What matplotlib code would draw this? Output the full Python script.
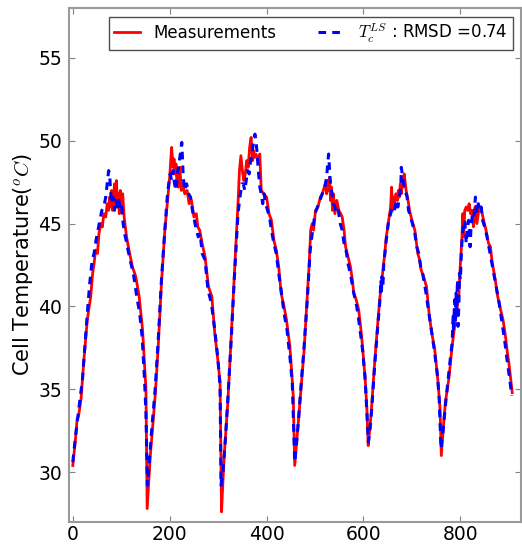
"""
Cell temperature: measurements vs. LS model estimate over six cycles.
"""
import matplotlib
matplotlib.use("Agg")
import matplotlib.pyplot as plt

plt.rcParams["mathtext.fontset"] = "cm"

# measured cell temperature (red, solid)
meas_t = [0, 5, 9, 12, 17, 23, 30, 37, 41, 44, 47, 51, 54, 58, 61, 64, 68, 71, 74, 76,
          78, 80, 82, 84, 86, 88, 90, 92, 94, 96, 98, 100, 103, 106, 111, 116, 123, 130,
          137, 144, 148, 151, 153.5,
          157, 160, 166, 170, 176, 183, 190, 197, 200, 204, 207, 209, 211, 213, 215, 218,
          221, 224, 227, 231, 236, 240, 245, 250, 255, 258, 262, 267, 273, 280, 287, 293,
          300, 304, 307,
          310, 313, 320, 327, 334, 341, 344, 347, 350, 353, 356, 359, 362, 365, 368, 371,
          373, 375, 378, 382, 386, 389, 394, 400, 405, 410, 415, 420, 425, 430, 436, 441,
          448, 452, 455, 458,
          462, 466, 472, 477, 484, 488, 491, 494, 497, 501, 506, 511, 515, 519, 522, 524,
          526, 528, 530, 532, 534, 536, 538, 541, 545, 549, 553, 556, 560, 563, 568, 573,
          577, 580, 585, 590, 594, 598, 604, 607, 609.7,
          613, 616, 623, 630, 634, 637, 640, 644, 647, 651, 654, 656, 658, 660, 662, 664,
          667, 670, 672, 674, 676, 678, 680, 682, 684, 688, 692, 695, 700, 706, 712, 716,
          719, 724, 730, 736, 741, 747, 754, 758, 760.6,
          765, 769, 776, 783, 788, 792, 797, 800, 803, 805, 807, 809, 812, 815, 818, 821,
          824, 827, 830, 834, 838, 841, 845, 848, 853, 858, 862, 865, 872, 877, 883, 888,
          893, 897, 900, 904, 907]
meas_T = [30.4, 31.8, 33.2, 33.4, 34.4, 36.8, 39.2, 40.6, 42.0, 42.6, 43.4, 43.2, 44.4,
          45.0, 44.8, 45.6, 45.4, 46.2, 45.8, 46.6, 46.0, 47.0, 45.8, 46.4, 47.4, 46.0,
          47.6, 46.2, 46.8, 45.6, 47.0, 46.0, 46.8, 45.4, 44.2, 43.4, 42.4, 41.8, 40.6,
          38.6, 36.6, 35.0, 27.8,
          29.5, 31.0, 33.2, 34.6, 37.4, 41.4, 44.6, 46.8, 47.8, 49.6, 48.4, 48.9, 48.0,
          48.6, 47.4, 47.2, 48.4, 47.0, 47.4, 46.8, 47.0, 46.2, 46.4, 45.4, 45.6, 44.8,
          44.6, 43.8, 43.0, 41.2, 40.6, 38.4, 36.6, 35.4, 27.6,
          29.5, 31.2, 34.2, 38.2, 42.2, 46.2, 48.2, 49.1, 48.2, 47.6, 48.0, 48.8, 48.4,
          49.6, 50.2, 48.8, 49.4, 49.0, 49.2, 48.8, 49.2, 47.0, 46.8, 46.6, 45.6, 45.2,
          44.0, 43.4, 42.4, 40.8, 40.0, 39.2, 37.6, 36.0, 34.6, 30.4,
          31.8, 33.2, 35.4, 37.2, 40.6, 42.6, 44.6, 45.0, 44.6, 45.8, 46.0, 46.6, 46.8,
          47.2, 47.4, 46.8, 47.6, 47.0, 47.8, 46.4, 47.2, 45.8, 46.8, 45.6, 46.4, 45.8,
          45.6, 45.4, 44.6, 43.6, 43.0, 42.4, 41.6, 40.8, 40.4, 39.8, 38.8, 37.6, 35.4,
          33.8, 31.6,
          32.6, 33.6, 36.6, 39.2, 40.6, 41.2, 42.2, 43.2, 44.2, 45.0, 45.6, 46.0, 47.2,
          45.8, 46.6, 46.2, 46.8, 46.4, 47.0, 46.6, 47.4, 46.8, 47.8, 47.2, 48.0, 47.0,
          46.4, 45.8, 45.2, 44.6, 43.2, 42.8, 42.2, 41.8, 41.2, 39.4, 38.4, 37.4, 35.4,
          33.8, 31.0,
          32.8, 34.2, 35.6, 37.6, 38.8, 39.6, 40.8, 42.6, 44.0, 45.6, 44.2, 45.8, 46.0,
          45.8, 46.2, 45.6, 45.8, 44.8, 46.0, 45.0, 45.8, 46.0, 45.6, 45.2, 44.6, 43.8,
          43.6, 42.8, 41.6, 40.6, 39.8, 39.2, 38.2, 37.2, 36.6, 35.6, 34.8]

# LS model estimate (blue, dashed)
model_t = [0, 5, 9, 14, 20, 25, 30, 35, 40, 44, 48, 52, 56, 60, 64, 68, 71, 74, 76, 78,
           80, 83, 86, 89, 92, 95, 98, 101, 104, 107, 110, 114, 120, 126, 132, 138, 143,
           148, 151, 154,
           158, 163, 170, 176, 183, 190, 195, 198, 201, 204, 207, 210, 213, 216, 219, 222,
           225, 228, 231, 235, 239, 243, 247, 251, 255, 259, 263, 267, 273, 279, 286, 293,
           299, 304, 306,
           310, 315, 320, 327, 334, 341, 345, 349, 352, 355, 358, 361, 364, 367, 370, 373,
           376, 378, 380, 383, 386, 389, 392, 395, 398, 402, 406, 410, 415, 420, 425, 430,
           436, 442, 448, 453, 458,
           462, 466, 472, 477, 484, 490, 495, 500, 505, 510, 515, 520, 524, 526, 528, 530,
           532, 535, 538, 541, 544, 548, 552, 556, 560, 564, 568, 574, 580, 586, 592, 598,
           603, 607, 610,
           613, 617, 623, 630, 634, 636, 637, 638, 640, 642, 647, 652, 656, 660, 664, 668,
           671, 674, 677, 678, 680, 683, 686, 690, 693, 697, 701, 706, 710, 714, 718, 722,
           728, 734, 740, 746, 752, 756, 760,
           764, 769, 774, 779, 783, 785, 786, 788, 789, 791, 792, 794, 795, 797, 798, 800,
           802, 804, 806, 809, 812, 814, 817, 820, 822, 825, 828, 831, 834, 837, 840, 843,
           846, 850, 855, 860, 865, 870, 875, 880, 886, 892, 897, 901, 906]
model_T = [30.6, 32.0, 33.0, 34.2, 35.6, 37.6, 39.6, 41.4, 42.8, 43.2, 44.0, 44.6, 45.2,
           45.8, 46.0, 46.6, 47.4, 48.2, 48.0, 47.0, 46.2, 46.6, 45.8, 46.4, 46.0, 46.4,
           45.8, 46.0, 45.0, 44.4, 44.0, 43.4, 42.6, 41.8, 40.6, 39.6, 38.2, 35.6, 33.6,
           29.2,
           30.6, 32.6, 35.0, 37.8, 41.6, 44.6, 46.6, 47.4, 48.0, 47.6, 48.2, 47.4, 47.0,
           48.0, 48.6, 49.2, 49.9, 47.8, 47.0, 47.4, 46.8, 46.6, 45.8, 45.2, 44.6, 44.2,
           44.4, 43.2, 42.8, 41.0, 40.2, 38.6, 37.0, 35.2, 29.2,
           30.0, 32.0, 34.4, 38.0, 42.0, 45.6, 46.6, 47.4, 47.4, 47.0, 47.6, 48.2, 48.0,
           48.8, 49.2, 50.0, 50.4, 50.0, 49.4, 48.2, 47.2, 46.8, 46.2, 46.8, 46.2, 45.8,
           45.4, 44.6, 43.8, 43.2, 42.0, 41.0, 39.6, 38.6, 37.0, 35.4, 30.6,
           31.8, 33.2, 35.6, 37.4, 40.4, 43.4, 44.6, 45.6, 46.0, 46.4, 46.8, 47.2, 47.8,
           48.6, 49.2, 48.2, 47.4, 46.8, 46.2, 46.0, 45.6, 45.8, 45.0, 44.6, 43.8, 43.4,
           42.6, 41.8, 40.8, 40.0, 38.8, 37.4, 35.8, 33.6, 31.8,
           32.4, 33.8, 36.4, 39.0, 40.4, 41.6, 40.8, 41.8, 41.2, 42.6, 44.0, 45.2, 45.6,
           46.0, 45.8, 46.4, 46.0, 46.6, 47.2, 48.4, 48.0, 47.4, 47.0, 46.6, 45.8, 45.4,
           45.0, 44.4, 43.6, 43.2, 42.4, 42.0, 41.0, 39.8, 38.6, 37.4, 36.0, 34.6, 31.4,
           32.4, 34.0, 35.4, 36.8, 37.8, 39.4, 38.4, 40.4, 39.0, 40.8, 39.6, 41.6, 38.8,
           40.2, 42.0, 41.6, 43.2, 44.4, 44.8, 45.2, 43.8, 44.6, 45.2, 43.6, 44.8, 45.6,
           45.4, 46.6, 45.6, 46.2, 45.8, 46.0, 45.2, 44.8, 44.2, 43.4, 42.6, 41.8, 41.0,
           40.2, 39.0, 37.8, 36.6, 35.8, 34.6]

rmsd = 0.74
x_ticks = [0, 200, 400, 600, 800]
y_ticks = [30, 35, 40, 45, 50, 55]

fig = plt.figure(figsize=(5.22, 5.47), dpi=100)
ax = fig.add_axes([0.132, 0.046, 0.866, 0.939])

ax.plot(meas_t, meas_T, color="red", lw=2, label="Measurements")
ax.plot(model_t, model_T, color="blue", lw=2.2, ls="--", dashes=(2.5, 2),
        label=r"$T_c^{LS}$ : RMSD =" + f"{rmsd:.2f}")

ax.set_xlim(-8, 925)
ax.set_ylim(27, 58)
ax.set_xticks(x_ticks)
ax.set_yticks(y_ticks)
ax.tick_params(direction="in", top=True, right=True, labelsize=13.5, length=4,
               color="0.5", pad=5)
ax.tick_params(axis="x", pad=2)
for sp in ax.spines.values():
    sp.set_color("0.6")
    sp.set_linewidth(1.5)
ax.set_ylabel(r"Cell Temperature($^oC$)", fontsize=15, labelpad=2)

leg = ax.legend(loc="upper right", ncol=2, fontsize=12, handlelength=1.6,
                fancybox=False, framealpha=1, columnspacing=2.5,
                borderpad=0.3, borderaxespad=0.5)
leg.get_frame().set_edgecolor("0.3")

fig.savefig("out.png", dpi=100, facecolor="white")
